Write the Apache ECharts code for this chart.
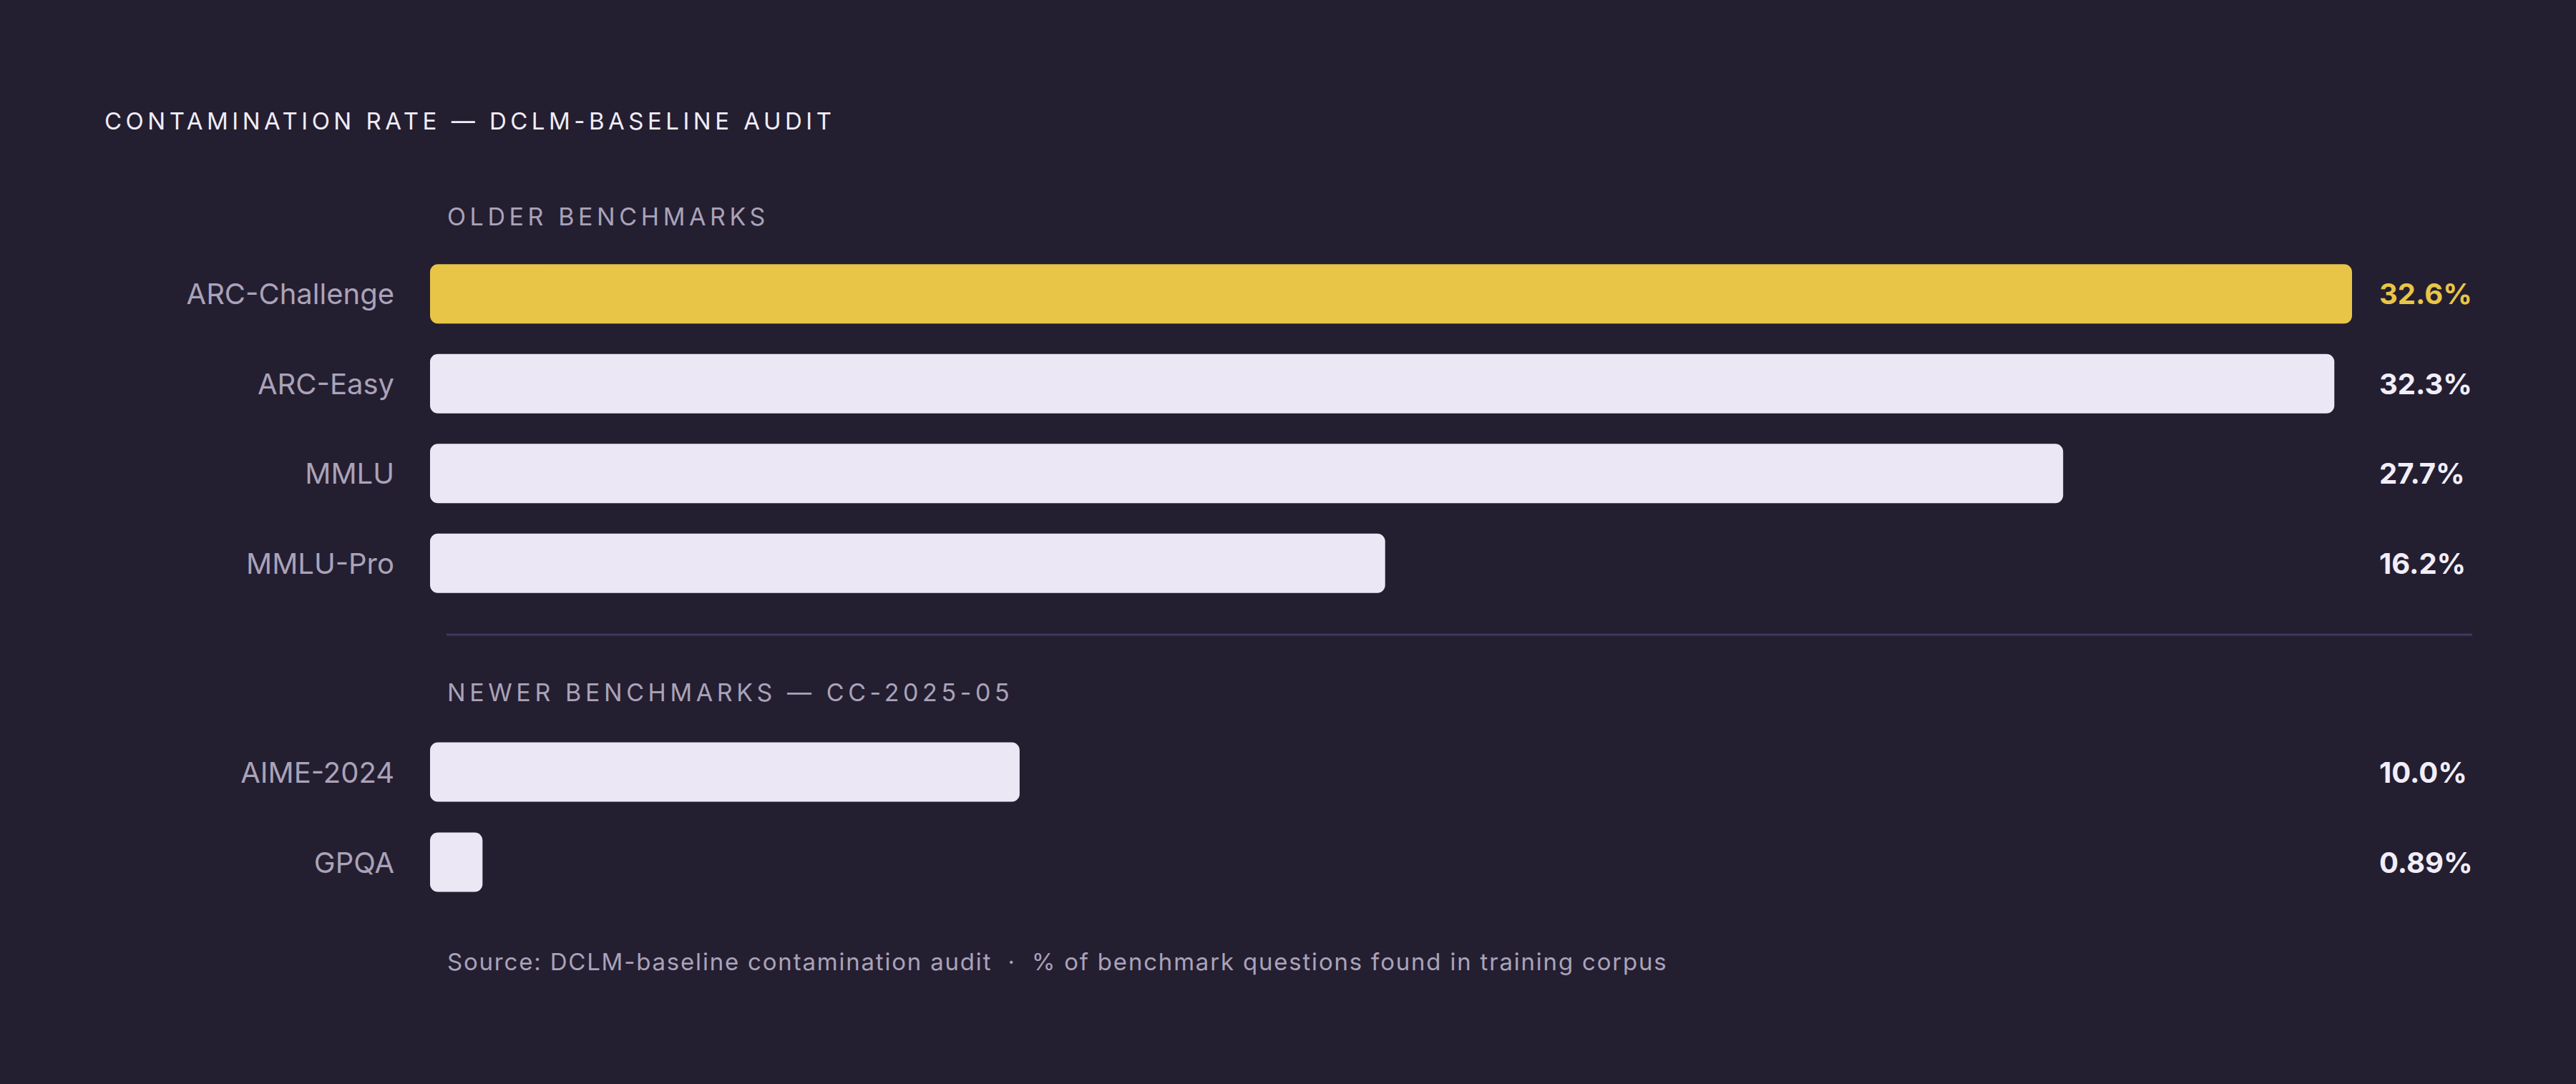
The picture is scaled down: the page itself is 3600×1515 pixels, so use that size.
<!DOCTYPE html>
<html>
<head>
<meta charset="utf-8">
<script src="https://cdn.jsdelivr.net/npm/echarts@6/dist/echarts.min.js"></script>
<style>
  html, body { margin: 0; padding: 0; background: #241e31; }
  #chart { width: 3600px; height: 1515px; }
  /* tracked (letter-spaced) headings, rendered as real SVG text */
  #chart text[fill="#f0edf7"] { letter-spacing: 5.5px; }
  #chart text[fill="#a9a3b8"] { letter-spacing: 5.6px; }
  #chart text[fill="#aaa3b9"] { letter-spacing: 1.8px; }
</style>
</head>
<body>
<div id="chart"></div>
<script>
// ---- data ----
const olderCategories = ['ARC-Challenge', 'ARC-Easy', 'MMLU', 'MMLU-Pro'];
const olderValues = [32.6, 32.3, 27.7, 16.2];
const newerCategories = ['AIME-2024', 'GPQA'];
const newerValues = [10.0, 0.89];
const highlight = 'ARC-Challenge';
const titleText = 'CONTAMINATION RATE — DCLM-BASELINE AUDIT';
const olderHeader = 'OLDER BENCHMARKS';
const newerHeader = 'NEWER BENCHMARKS — CC-2025-05';
const sourceText = 'Source: DCLM-baseline contamination audit  ·  % of benchmark questions found in training corpus';

// ---- style ----
const BG = '#241e31';
const BAR = '#ebe7f5';
const GOLD = '#e8c547';
const GREY = '#aaa3b8';
const WHITE = '#f1eef8';
const TITLE_C = '#f0edf7';
const HEAD_C = '#a9a3b8';
const SRC_C = '#aaa3b9';
const FONT = 'Inter';

const maxVal = Math.max(...olderValues, ...newerValues);
const fmt = v => (v >= 1 ? v.toFixed(1) : v.toFixed(2)) + '%';

function barData(cats, vals) {
  return vals.map((v, i) => ({
    value: v,
    itemStyle: { color: cats[i] === highlight ? GOLD : BAR }
  }));
}
function rightLabels(cats, vals) {
  return vals.map((v, i) => ({
    value: fmt(v),
    textStyle: { color: cats[i] === highlight ? GOLD : WHITE }
  }));
}

const chart = echarts.init(document.getElementById('chart'), null, { renderer: 'svg' });

const catLabel = { color: GREY, fontSize: 40, fontFamily: FONT, margin: 50 };
const valLabel = { color: WHITE, fontSize: 40, fontFamily: FONT, fontWeight: 'bold', margin: 38, align: 'left' };
const hidden = { axisLine: { show: false }, axisTick: { show: false }, splitLine: { show: false } };

chart.setOption({
  backgroundColor: BG,
  animation: false,
  title: [
    { text: titleText, left: 141, top: 147,
      textStyle: { color: TITLE_C, fontSize: 33, fontWeight: 'normal', fontFamily: FONT } },
    { text: olderHeader, left: 620, top: 280,
      textStyle: { color: HEAD_C, fontSize: 34, fontWeight: 'normal', fontFamily: FONT } },
    { text: newerHeader, left: 620, top: 945,
      textStyle: { color: HEAD_C, fontSize: 34, fontWeight: 'normal', fontFamily: FONT } },
    { text: sourceText, left: 620, top: 1322,
      textStyle: { color: SRC_C, fontSize: 33, fontWeight: 'normal', fontFamily: FONT } }
  ],
  graphic: [
    { type: 'line', shape: { x1: 624, y1: 887, x2: 3455, y2: 887 },
      style: { stroke: '#43395f', lineWidth: 3 } }
  ],
  grid: [
    { left: 601, right: 313, top: 348, height: 502 },
    { left: 601, right: 313, top: 1016, height: 252 }
  ],
  xAxis: [
    { type: 'value', gridIndex: 0, min: 0, max: maxVal, show: false },
    { type: 'value', gridIndex: 1, min: 0, max: maxVal, show: false }
  ],
  yAxis: [
    Object.assign({ type: 'category', gridIndex: 0, inverse: true, data: olderCategories, axisLabel: catLabel }, hidden),
    Object.assign({ type: 'category', gridIndex: 0, inverse: true, position: 'right', data: rightLabels(olderCategories, olderValues), axisLabel: valLabel }, hidden),
    Object.assign({ type: 'category', gridIndex: 1, inverse: true, data: newerCategories, axisLabel: catLabel }, hidden),
    Object.assign({ type: 'category', gridIndex: 1, inverse: true, position: 'right', data: rightLabels(newerCategories, newerValues), axisLabel: valLabel }, hidden)
  ],
  series: [
    { type: 'bar', xAxisIndex: 0, yAxisIndex: 0, data: barData(olderCategories, olderValues),
      barWidth: 83, itemStyle: { borderRadius: 11 } },
    { type: 'bar', xAxisIndex: 1, yAxisIndex: 2, data: barData(newerCategories, newerValues),
      barWidth: 83, itemStyle: { borderRadius: 11 } }
  ]
});
</script>
</body>
</html>
